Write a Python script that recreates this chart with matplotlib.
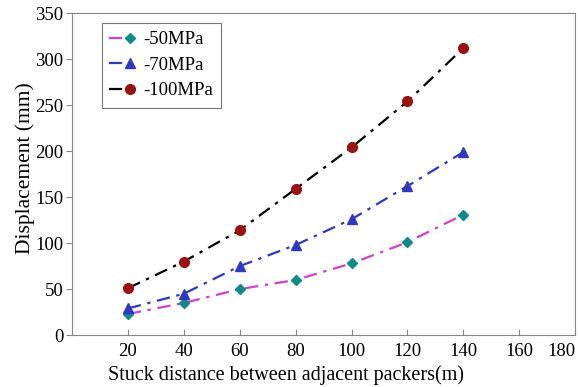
import matplotlib
matplotlib.use("Agg")
import matplotlib.pyplot as plt
from matplotlib.legend_handler import HandlerBase
from matplotlib.lines import Line2D

x = [20, 40, 60, 80, 100, 120, 140]
labels = ["-50MPa", "-70MPa", "-100MPa"]
y50 = [23, 35, 50, 60, 78, 101, 131]
y70 = [29, 45, 75, 98, 126, 162, 199]
y100 = [51, 80, 114, 159, 204, 254, 312]
xticks = [20, 40, 60, 80, 100, 120, 140, 160, 180]
yticks = [0, 50, 100, 150, 200, 250, 300, 350]

plt.rcParams['font.family'] = ['Liberation Serif', 'DejaVu Serif']


class LineThenMarker(HandlerBase):
    def create_artists(self, legend, orig, xdescent, ydescent, width, height,
                       fontsize, trans):
        y = height / 2 - ydescent
        x0 = -xdescent
        ln = Line2D([x0, x0 + width * 0.42], [y, y], color=orig.get_color(),
                    lw=1.6, transform=trans)
        mk = Line2D([x0 + width * 0.75], [y], linestyle='none',
                    marker=orig.get_marker(), markersize=orig.get_markersize(),
                    mfc=orig.get_markerfacecolor(),
                    mec=orig.get_markeredgecolor(), transform=trans)
        return [ln, mk]


fig = plt.figure(figsize=(5.78, 3.87), dpi=100)
ax = fig.add_axes([0.1246, 0.134, 0.8704, 0.832])

ls = (0, (6, 3, 1.5, 3))
l1, = ax.plot(x, y50, linestyle=ls, color='#d040d0', lw=1.6, marker='D', ms=5.5,
              mfc='#0e8a8a', mec='#0e8a8a', label=labels[0])
l2, = ax.plot(x, y70, linestyle=ls, color='#3038c0', lw=1.6, marker='^', ms=7,
              mfc='#3038c0', mec='#3038c0', label=labels[1])
l3, = ax.plot(x, y100, linestyle=ls, color='black', lw=1.6, marker='o', ms=7,
              mfc='#9a1212', mec='#9a1212', label=labels[2])

ax.set_xlim(0, 180)
ax.set_ylim(0, 350)
ax.set_xticks(xticks)
ax.set_yticks(yticks)
ax.tick_params(labelsize=13.5, length=4, top=False, right=False, color='#888888')
ax.tick_params(axis='x', direction='in', pad=6)
ax.tick_params(axis='y', direction='out', pad=2)
for s in ax.spines.values():
    s.set_color('#888888')
last = ax.get_xticklabels()[-1]
last.set_horizontalalignment('right')
ax.set_xlabel("Stuck distance between adjacent packers(m)", fontsize=14.5)
ax.set_ylabel("Displacement (mm)", fontsize=15.5)
ax.xaxis.set_label_coords(0.425, -0.093)
ax.yaxis.set_label_coords(-0.074, 0.52)

leg = ax.legend(handles=[l1, l2, l3], labels=labels,
                handler_map={Line2D: LineThenMarker()},
                loc='upper left', bbox_to_anchor=(0.04, 1.0), fontsize=13.5,
                frameon=True, fancybox=False, edgecolor='#555555',
                handlelength=1.45, handletextpad=0.3, borderpad=0.45,
                labelspacing=0.45)
leg.get_frame().set_linewidth(0.8)

fig.savefig("out.png", dpi=100)
